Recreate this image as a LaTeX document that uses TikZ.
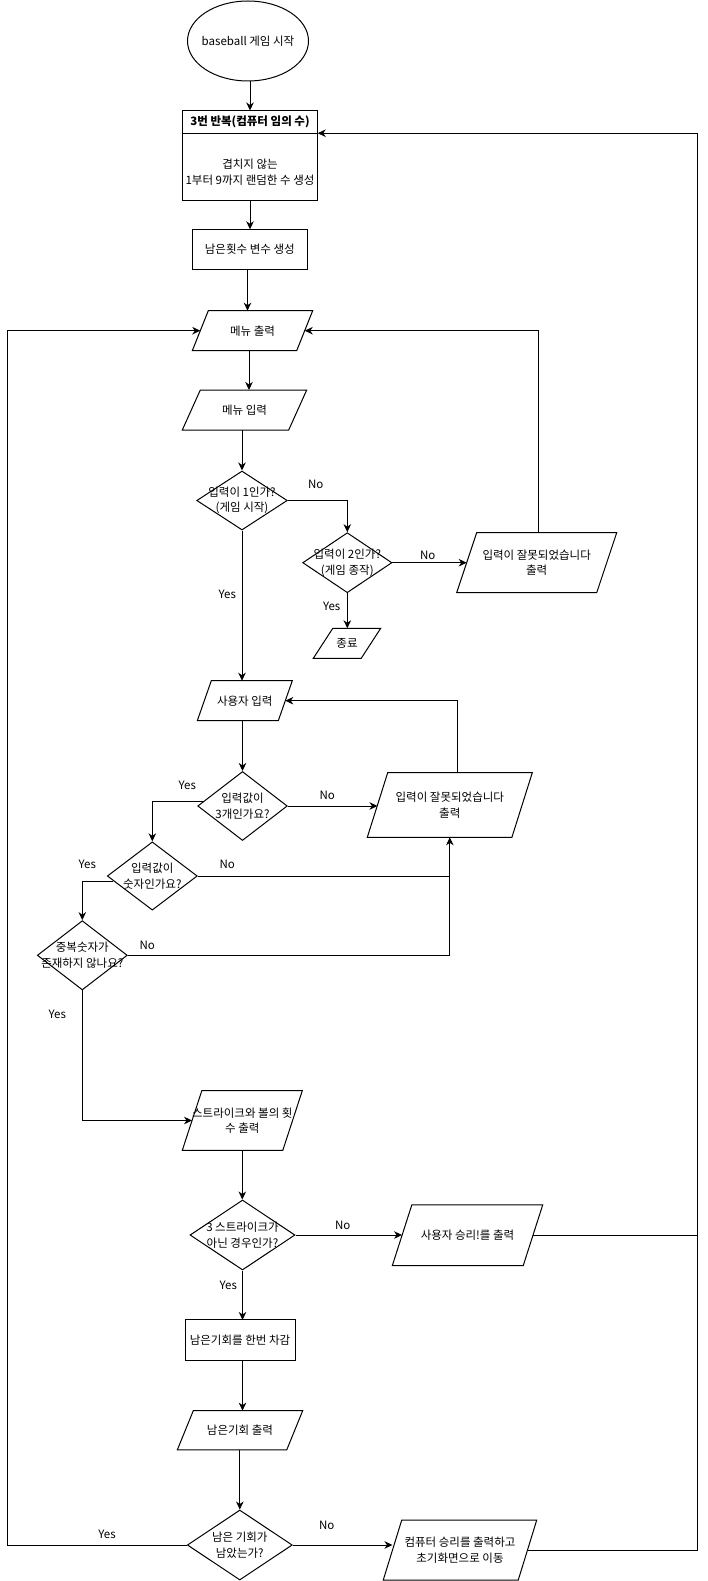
\documentclass[tikz,border=0pt]{standalone}
\usepackage{fontspec}
\setmainfont{Noto Sans CJK KR}
\usetikzlibrary{shapes.geometric,arrows.meta,calc}
\newcommand\fs{\fontsize{11.5}{15.5}\selectfont}
\tikzset{
 shapeline/.style={draw=black, line width=1pt},
 frame/.style={rectangle, draw=none, inner sep=0pt, outer sep=0pt},
 lbl/.style={inner sep=0pt, align=center, font=\fs, text=black},
 conn/.style={draw=black, line width=1pt},
 arr/.style={conn, -{Stealth[length=8pt,width=7.5pt,inset=2.5pt]}},
}
% name, x, y, total width, height, slant
\newcommand\parashape[6]{%
 \node[frame, minimum width=#4pt, minimum height=#5pt] (#1) at (#2,#3) {};
 \draw[shapeline] ($(#1.north west)+(#6,0)$) -- (#1.north east) -- ($(#1.south east)-(#6,0)$) -- (#1.south west) -- cycle;
 \coordinate (#1-w) at ($(#1.west)+(#6/2,0)$);
 \coordinate (#1-e) at ($(#1.east)-(#6/2,0)$);
}
% name, x, y, width, height
\newcommand\diashape[5]{%
 \node[diamond, shapeline, minimum width=#4pt, minimum height=#5pt, inner sep=0pt] (#1) at (#2,#3) {};
}
\begin{document}
\begin{tikzpicture}[x=1pt,y=-1pt]
\fill[white] (0,0) rectangle (707,1581);
\useasboundingbox (0,0) rectangle (707,1581);
\coordinate (leftrail) at (7.3,0);
\coordinate (rightrail) at (697.3,0);

% shapes
\node[ellipse, shapeline, minimum width=121pt, minimum height=80pt, inner sep=0pt] (start) at (248,41) {};
\node[lbl] (start-t) at (start) {baseball 게임 시작};

\node[frame, shapeline, minimum width=135.4pt, minimum height=90pt] (loop) at (250,155.5) {};
\draw[shapeline] ($(loop.north west)+(0,22.7)$) -- ($(loop.north east)+(0,22.7)$);
\coordinate (loopin) at ($(loop.north east)+(0,22.7)$);
\node[lbl, font=\fs\bfseries] (loop-h) at ($(loop.north)+(0,11.5)$) {3번 반복(컴퓨터 임의 수)};
\node[lbl] (loop-t) at (250,172) {겹치지 않는\\1부터 9까지 랜덤한 수 생성};

\node[frame, shapeline, minimum width=115pt, minimum height=40pt] (remain) at (249.8,249.3) {};
\node[lbl] (remain-t) at (remain) {남은횟수 변수 생성};

\parashape{menuout}{252.5}{330.7}{120.4}{40}{16}
\node[lbl] (menuout-t) at (menuout) {메뉴 출력};
\parashape{menuin}{244.5}{410}{124.4}{40}{18}
\node[lbl] (menuin-t) at (menuin) {메뉴 입력};

\diashape{d1}{242}{500.5}{90.6}{59}
\node[lbl] (d1-t) at (d1) {입력이 1인가?\\(게임 시작)};
\diashape{d2}{347.3}{562.7}{89.3}{60}
\node[lbl] (d2-t) at (d2) {입력이 2인가?\\(게임 종작)};

\parashape{err1}{536.7}{562.7}{160}{60}{20}
\node[lbl] (err1-t) at (err1) {입력이 잘못되었습니다\\출력};
\parashape{endn}{347}{643.3}{67.4}{30}{19.5}
\node[lbl] (endn-t) at (endn) {종료};

\parashape{userin}{244.8}{700.7}{95}{40}{14}
\node[lbl] (userin-t) at (userin) {사용자 입력};

\diashape{d3}{242.5}{806}{89.6}{69}
\node[lbl] (d3-t) at (d3) {입력값이\\3개인가요?};
\parashape{err2}{449.8}{805}{165}{64.6}{20.4}
\node[lbl] (err2-t) at (err2) {입력이 잘못되었습니다\\출력};

\diashape{d4}{152.3}{876}{90}{68.3}
\node[lbl] (d4-t) at (d4) {입력값이\\숫자인가요?};
\diashape{d5}{82.3}{955.3}{90}{69.3}
\node[lbl] (d5-t) at (d5) {중복숫자가\\존재하지 않나요?};

\parashape{strike}{242.3}{1120.5}{120}{59.6}{19.5}
\node[lbl] (strike-t) at (strike) {스트라이크와 볼의 횟\\수 출력};

\diashape{d6}{242.5}{1235}{105}{70}
\node[lbl] (d6-t) at (d6) {3 스트라이크가\\아닌 경우인가?};
\parashape{uwin}{467.5}{1235.3}{150.4}{60.7}{19.5}
\node[lbl] (uwin-t) at (uwin) {사용자 승리!를 출력};

\node[frame, shapeline, minimum width=110pt, minimum height=40.7pt] (dec) at (240,1340.3) {};
\node[lbl] (dec-t) at (dec) {남은기회를 한번 차감};

\parashape{remout}{240}{1430.3}{125.4}{39.3}{16}
\node[lbl] (remout-t) at (remout) {남은기회 출력};

\diashape{d7}{239.8}{1545}{105}{70}
\node[lbl] (d7-t) at (d7) {남은 기회가\\남았는가?};
\parashape{cwin}{460}{1550}{153.5}{60}{18.5}
\node[lbl] (cwin-t) at (cwin) {컴퓨터 승리를 출력하고\\초기화면으로 이동};

% connectors
\draw[arr] (start.south -| loop.north) -- (loop.north);
\draw[arr] (loop.south) -- (loop.south |- remain.north);
\draw[arr] ($(remain.south)+(-2.3,0)$) coordinate (c1) -- (c1 |- menuout.north);
\draw[arr] ($(menuout.south)+(-3.5,0)$) coordinate (c2) -- (c2 |- menuin.north);
\draw[arr] (d1.north |- menuin.south) -- (d1.north);
\draw[arr] (d1.east) -| (d2.north);
\draw[arr] (d2.east) -- (d2.east -| err1-w);
\draw[arr] (d2.south) -- (d2.south |- endn.north);
\draw[arr] ($(err1.north)+(1.6,0)$) |- (menuout-e);
\draw[arr] (d1.south) -- (d1.south |- userin.north);
\draw[arr] (d3.north |- userin.south) -- (d3.north);
\draw[arr] ($(d3.west)+(6.5,-5)$) -| (d4.north);
\draw[arr] (d3.east) -- (d3.east -| err2-w);
\draw[arr] ($(err2.north)+(7.5,0)$) |- (userin-e);
\draw[arr] (d4.east) -| (err2.south);
\draw[conn] (d5.east) -| (d4.east -| err2.south);
\draw[arr] ($(d4.west)+(6.6,5)$) -| (d5.north);
\draw[arr] (d5.south) |- (strike-w);
\draw[arr] (strike.south) -- (strike.south |- d6.north);
\draw[arr] (d6.east) -- (d6.east -| uwin-w);
\draw[arr] (d6.south) -- (d6.south |- dec.north);
\draw[arr] (d6.south |- dec.south) -- (d6.south |- remout.north);
\draw[arr] (d7.north |- remout.south) -- (d7.north);
\draw[arr] (d7.east) -- (d7.east -| cwin-w);
\draw[arr] (d7.west) -- (d7.west -| leftrail) |- (menuout-w);
\draw[arr] (cwin-e) -- (cwin-e -| rightrail) |- (loopin);
\draw[conn] (uwin-e) -- (uwin-e -| rightrail);

% labels
\node[lbl] (l-no1) at (315.7,484.3) {No};
\node[lbl] (l-no2) at (427.7,555.7) {No};
\node[lbl] (l-yes2) at (331.7,606.7) {Yes};
\node[lbl] (l-yes1) at (227.3,594) {Yes};
\node[lbl] (l-yes3) at (187.3,785) {Yes};
\node[lbl] (l-no3) at (327.3,795) {No};
\node[lbl] (l-yes4) at (87.3,864.3) {Yes};
\node[lbl] (l-no4) at (227.3,864.3) {No};
\node[lbl] (l-no5) at (147.3,945) {No};
\node[lbl] (l-yes5) at (57.3,1014.3) {Yes};
\node[lbl] (l-no6) at (342.7,1225) {No};
\node[lbl] (l-yes6) at (228.3,1285) {Yes};
\node[lbl] (l-no7) at (326.7,1525) {No};
\node[lbl] (l-yes7) at (107,1534) {Yes};
\end{tikzpicture}
\end{document}
